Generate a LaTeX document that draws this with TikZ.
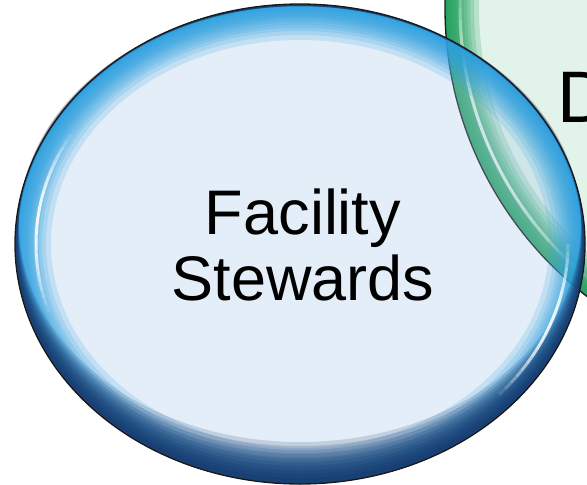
\documentclass[tikz,border=0pt]{standalone}
\usepackage{fontspec}
\setmainfont{Liberation Sans}
\usetikzlibrary{calc}

\definecolor{blueinner}{RGB}{166,198,232}
\definecolor{bluerimc}{RGB}{44,160,222}
\definecolor{navyrim}{RGB}{20,46,96}
\definecolor{greeninner}{RGB}{226,244,234}
\definecolor{greenrimc}{RGB}{36,162,96}

\tikzset{
    outline/.style={draw=black!90, line width=1.3pt},
    gloss/.style={draw=white, line width=3pt},
    bluering/.style={even odd rule, fill=bluerimc, fill opacity=0.18},
    navyring/.style={even odd rule, fill=navyrim, fill opacity=0.16},
    greenring/.style={even odd rule, fill=greenrimc, fill opacity=0.22},
    label/.style={inner sep=0pt, text=black}
}

\begin{document}
\begin{tikzpicture}[x=1pt, y=1pt]
    \path[use as bounding box] (0,0) rectangle (587,-485);
    \clip (0,0) rectangle (587,-485);

    \coordinate (bluec) at (300,-244);
    \coordinate (greenc) at (809,-8);

    % green circle, behind
    \fill[greeninner] (greenc) circle (364);
    \foreach \d in {34,29,25,22,19,16,14,12,10,8,6,4,3,2}
        \fill[greenring] (greenc) circle (364) (greenc) circle (364-\d);
    \foreach \a [evaluate=\a as \o using {0.85*sin((\a-172)*3)}] in {172,174,...,230}
        \draw[gloss, opacity=\o] ($(greenc)+(\a:349)$) arc[start angle=\a, delta angle=2, radius=349];
    \draw[outline] (greenc) circle (364);

    % blue ellipse on top, see-through
    \fill[blueinner, fill opacity=0.3] (bluec) ellipse [x radius=285, y radius=240];
    \foreach \d in {36,31,27,24,21,18,16,14,12,10,8,6,5,4,3,2}
        \fill[bluering] (bluec) ellipse [x radius=285, y radius=240] (bluec) ellipse [x radius=285-\d, y radius=240-\d];
    % darker rim towards the bottom
    \foreach \u in {2,4,6,8,10,12,14,16,18,20}
        \fill[navyring] (bluec) ellipse [x radius=285, y radius=240] ($(bluec)+(0,\u)$) ellipse [x radius=283-0.1*\u, y radius=238-\u];
    \foreach \a [evaluate=\a as \o using {0.9*sin((\a-148)*3.6)}] in {148,150,...,196}
        \draw[gloss, opacity=\o] ($(bluec)+(\a:264 and 220)$) arc[start angle=\a, delta angle=2, x radius=264, y radius=220];
    \foreach \a [evaluate=\a as \o using {0.9*sin((\a+44)*4)}] in {-44,-42,...,-2}
        \draw[gloss, opacity=\o] ($(bluec)+(\a:268 and 225)$) arc[start angle=\a, delta angle=2, x radius=268, y radius=225];
    \draw[outline] (bluec) ellipse [x radius=285, y radius=240];

    \node[label, align=center, font=\fontsize{63}{66}\selectfont] (stewards) at (303,-245) {Facility\\Stewards};
    \node[label, anchor=base west, font=\fontsize{73}{80}\selectfont] (data) at (557,-122) {D};
\end{tikzpicture}
\end{document}
